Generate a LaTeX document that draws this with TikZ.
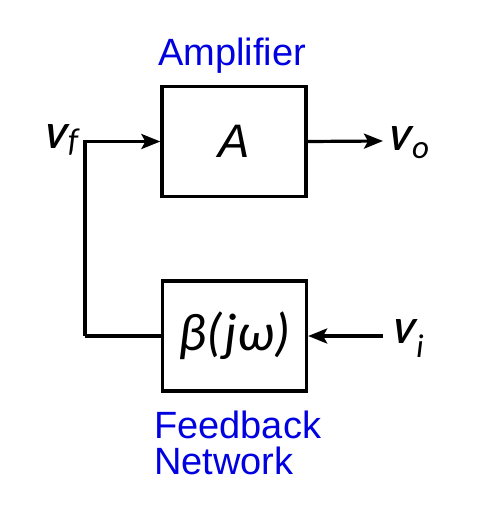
\documentclass[tikz,border=0pt]{standalone}
\usepackage{fontspec}
\setmainfont{Liberation Sans}
\newfontfamily\calfont{Carlito}
\newfontfamily\vfont[BoldItalicFeatures={FakeSlant=0.12}]{Carlito}
\usetikzlibrary{arrows.meta}
\definecolor{lblblue}{RGB}{0,0,225}
\newcommand{\sigsub}[3]{{\vfont\fontsize{37}{37}\selectfont\bfseries\itshape #1}\kern3pt\raisebox{-#3pt}{\calfont\fontsize{33}{33}\selectfont\itshape #2}}
\tikzset{
  blk/.style={draw=black, line width=3.3pt, minimum width=144pt, minimum height=110pt, inner sep=0pt},
  conn/.style={line width=3.2pt},
  arr/.style={line width=3.2pt, -{Stealth[length=19pt,width=15pt,inset=4pt]}},
  sig/.style={inner sep=0pt},
  blue lbl/.style={text=lblblue, inner sep=0pt, font=\fontsize{38}{36}\selectfont, align=left}
}
\begin{document}
\begin{tikzpicture}[x=1pt,y=-1pt]
\useasboundingbox (0,0) rectangle (492,512);
\node[blk, font=\fontsize{47}{47}\selectfont] (amp) at (234,141.5) {\textit{A}};
\node[blk, font=\calfont\fontsize{53}{53}\selectfont] (fb) at (234.5,336) {\textit{β(jω)}};
\node[blue lbl, anchor=base west] (amplbl) at (158,65) {Amplifier};
\node[blue lbl, anchor=base west] (fblbl) at (154,438) {Feedback};
\node[blue lbl, anchor=base west] (fblbl2) at (154,474) {Network};
\coordinate (corner) at (85,336);
\draw[conn] (fb.west) -- (corner);
\draw[arr] (corner) |- (amp.west);
\node[sig, anchor=base west] (vf) at (43,148) {\sigsub{V}{f}{3}};
\node[sig, anchor=base west] (vo) at (387,150) {\sigsub{V}{o}{8}};
\node[sig, anchor=base west] (vi) at (391,343) {\sigsub{V}{i}{14}};
\coordinate (voend) at (383,141);
\draw[arr] (amp.east) -- (voend);
\coordinate (vistart) at (383,336);
\draw[arr] (vistart) -- (fb.east);
\end{tikzpicture}
\end{document}
